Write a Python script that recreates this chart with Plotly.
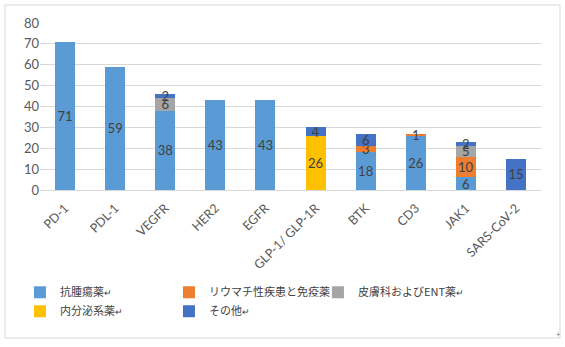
import plotly.graph_objects as go

categories = ["PD-1", "PDL-1", "VEGFR", "HER2", "EGFR", "GLP-1/ GLP-1R", "BTK", "CD3", "JAK1", "SARS-CoV-2"]
antitumor = [71, 59, 38, 43, 43, 0, 18, 26, 6, 0]
rheum_immuno = [0, 0, 0, 0, 0, 0, 3, 1, 10, 0]
derm_ent = [0, 0, 6, 0, 0, 0, 0, 0, 5, 0]
endocrine = [0, 0, 0, 0, 0, 26, 0, 0, 0, 0]
others = [0, 0, 2, 0, 0, 4, 6, 0, 2, 15]

y_ticks = [0, 10, 20, 30, 40, 50, 60, 70, 80]

RET = "<span style='font-size:9px'>↵</span>"
series = [
    ("抗腫瘍薬" + RET, antitumor, "#5B9BD5"),
    ("リウマチ性疾患と免疫薬", rheum_immuno, "#ED7D31"),
    ("皮膚科およびENT薬" + RET, derm_ent, "#A5A5A5"),
    ("内分泌系薬" + RET, endocrine, "#FFC000"),
    ("その他" + RET, others, "#4472C4"),
]

fig = go.Figure()
for name, vals, color in series:
    fig.add_trace(go.Bar(
        x=categories, y=vals, name=name,
        marker=dict(color=color, line=dict(width=0)),
        text=[str(v) if v else "" for v in vals],
        textposition="inside", insidetextanchor="middle",
        textangle=0,
        textfont=dict(family="Lato, Open Sans, sans-serif", size=13, color="#404040"),
    ))

fig.update_layout(
    barmode="stack",
    bargap=0.6,
    width=565, height=347,
    margin=dict(l=40, r=24, t=23, b=157),
    paper_bgcolor="white", plot_bgcolor="white",
    uniformtext=dict(minsize=13, mode="show"),
    font=dict(family="Lato, Open Sans, sans-serif", color="#595959"),
    xaxis=dict(
        tickangle=-45,
        tickfont=dict(size=12.5, color="#595959"),
        showline=True, linecolor="#D9D9D9", linewidth=1,
        ticks="", showgrid=False,
        ticklabelstandoff=5,
    ),
    yaxis=dict(
        range=[0, 80], tickvals=y_ticks,
        tickfont=dict(size=13, color="#595959"),
        showgrid=True, gridcolor="#D9D9D9", gridwidth=1,
        zeroline=False, ticks="", ticklen=0,
    ),
    legend=dict(
        orientation="h",
        x=-0.04, xanchor="left",
        y=-0.525, yanchor="top",
        entrywidth=104, entrywidthmode="pixels",
        font=dict(family="Noto Sans CJK JP", size=11, color="#404040"),
        traceorder="normal",
        itemclick=False,
    ),
    shapes=[dict(
        type="rect", xref="paper", yref="paper",
        x0=-0.0699, x1=1.0379, y0=-0.886, y1=1.1078,
        line=dict(color="#D9D9D9", width=1), fillcolor="rgba(0,0,0,0)",
        layer="below",
    )],
    annotations=[dict(
        xref="paper", yref="paper", x=1.044, y=-0.905, text="+",
        showarrow=False, font=dict(size=8, color="#808080"),
    )],
)

fig.write_html("out.html")
